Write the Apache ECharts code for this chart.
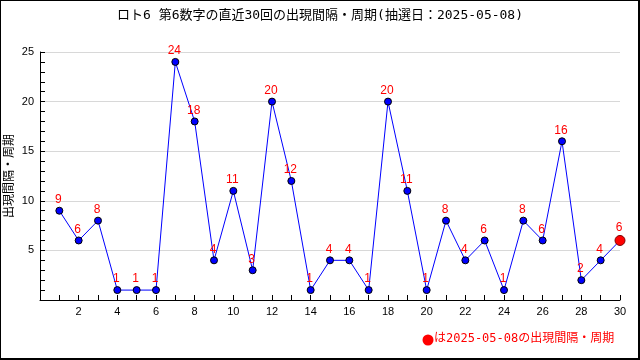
<!DOCTYPE html>
<html><head><meta charset="utf-8">
<script src="https://cdn.jsdelivr.net/npm/echarts@6/dist/echarts.min.js"></script>
<style>html,body{margin:0;padding:0;background:#fff}#c{width:640px;height:360px}</style>
</head><body><div id="c"></div>
<script>
const titleText = 'ロト6 第6数字の直近30回の出現間隔・周期(抽選日：2025-05-08)';
const yAxisName = '出現間隔・周期';
const legendText = 'は2025-05-08の出現間隔・周期';
const rounds = [1,2,3,4,5,6,7,8,9,10,11,12,13,14,15,16,17,18,19,20,21,22,23,24,25,26,27,28,29,30];
const intervals = [9,6,8,1,1,1,24,18,4,11,3,20,12,1,4,4,1,20,11,1,8,4,6,1,8,6,16,2,4,6];
const xTickLabels = [2,4,6,8,10,12,14,16,18,20,22,24,26,28,30];
const yTickLabels = [5,10,15,20,25];

const FONT = "'DejaVu Sans Mono','Noto Sans CJK JP',monospace";
const NUMFONT = "'Liberation Sans','Noto Sans CJK JP',sans-serif";

const data = rounds.map((r, i) => {
  const item = { value: [r, intervals[i]] };
  if (i === rounds.length - 1) {
    item.symbolSize = 10;
    item.itemStyle = { color: '#ff0000', borderColor: '#800000', borderWidth: 1 };
  }
  return item;
});

const chart = echarts.init(document.getElementById('c'), null, { renderer: 'canvas' });
chart.setOption({
  animation: false,
  backgroundColor: '#ffffff',
  title: {
    text: titleText, left: 'center', top: 4,
    textStyle: { fontFamily: FONT, fontSize: 13, fontWeight: 'normal', color: '#000' }
  },
  grid: { left: 40, right: 20, top: 52, bottom: 60, containLabel: false, outerBoundsMode: 'none' },
  xAxis: {
    type: 'value', min: 0, max: 30, interval: 1,
    axisLine: { show: true, onZero: false, lineStyle: { color: '#000', width: 1 } },
    axisTick: { show: true, inside: true, length: 5, lineStyle: { color: '#000' } },
    axisLabel: {
      fontFamily: NUMFONT, fontSize: 11, color: '#000', margin: 6,
      formatter: v => xTickLabels.indexOf(v) >= 0 ? String(v) : ''
    },
    splitLine: { show: false }
  },
  yAxis: {
    type: 'value', min: 0, max: 25, interval: 5,
    name: yAxisName, nameLocation: 'middle', nameGap: 24, nameRotate: 90,
    nameMoveOverlap: false,
    nameTextStyle: { fontFamily: FONT, fontSize: 12, color: '#000' },
    axisLine: { show: true, lineStyle: { color: '#000', width: 1 } },
    axisTick: { show: true, inside: true, length: 5, lineStyle: { color: '#000' } },
    minorTick: { show: true, splitNumber: 5, length: 5, lineStyle: { color: '#000' } },
    axisLabel: {
      fontFamily: NUMFONT, fontSize: 11, color: '#000', margin: 6,
      formatter: v => yTickLabels.indexOf(v) >= 0 ? String(v) : ''
    },
    splitLine: { show: true, lineStyle: { color: '#d8d8d8', width: 1 } }
  },
  series: [{
    type: 'line',
    data: data,
    symbol: 'circle',
    symbolSize: 7,
    lineStyle: { color: '#0000ff', width: 1 },
    itemStyle: { color: '#0000ff', borderColor: '#000000', borderWidth: 1 },
    label: {
      show: true, position: 'top', distance: 1, offset: [-1, 0],
      color: '#ff0000', fontFamily: NUMFONT, fontSize: 12,
      formatter: p => String(p.value[1])
    },
    z: 3
  }],
  graphic: [
    { type: 'rect', shape: { x: 0, y: 0, width: 640, height: 1 }, style: { fill: '#000' } },
    { type: 'rect', shape: { x: 0, y: 0, width: 1, height: 360 }, style: { fill: '#000' } },
    { type: 'rect', shape: { x: 638, y: 0, width: 2, height: 360 }, style: { fill: '#000' } },
    { type: 'rect', shape: { x: 0, y: 358, width: 640, height: 2 }, style: { fill: '#000' } },
    { type: 'circle', shape: { cx: 428, cy: 340, r: 5.5 }, style: { fill: '#ff0000' } },
    { type: 'text', left: 434, top: 333, style: { text: legendText, fill: '#ff0000', font: "12px 'DejaVu Sans Mono','Noto Sans CJK JP',monospace" } }
  ]
});
</script>
</body></html>
